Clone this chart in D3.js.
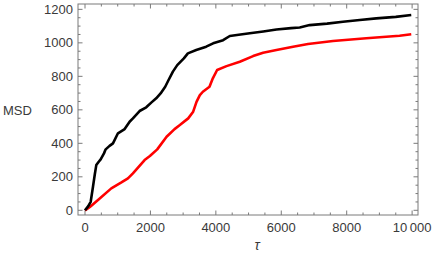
<!DOCTYPE html>
<html>
<head>
<meta charset="utf-8">
<script src="https://cdn.jsdelivr.net/npm/d3@7"></script>
<style>
  body { margin: 0; background: #fff; }
  text { font-family: "Liberation Sans", Arial, sans-serif; }
</style>
</head>
<body>
<svg id="chart" width="432" height="260"></svg>
<script>
// lag values and MSD readings for the two curves
const tauBlack = [0, 100, 174, 244, 300, 345, 420, 479, 580, 632, 750, 855, 1007, 1212, 1364, 1465, 1669, 1872, 2025, 2177, 2311, 2452, 2555, 2687, 2820, 3022, 3145, 3400, 3705, 3917, 4222, 4427, 4700, 5037, 5450, 5853, 6300, 6564, 6869, 7400, 7886, 8400, 8904, 9500, 9974];
const msdBlack = [0, 25, 51, 141, 215, 270, 290, 304, 340, 364, 385, 400, 460, 485, 529, 549, 593, 615, 643, 669, 698, 738, 778, 828, 867, 907, 937, 957, 977, 997, 1016, 1041, 1048, 1057, 1068, 1080, 1088, 1092, 1106, 1115, 1126, 1136, 1146, 1155, 1166];

const tauRed = [0, 150, 397, 804, 1100, 1313, 1465, 1822, 1984, 2208, 2494, 2738, 2900, 3155, 3307, 3409, 3511, 3603, 3806, 3908, 4039, 4326, 4732, 5139, 5444, 5853, 6360, 6818, 7581, 8598, 9616, 9974];
const msdRed = [0, 20, 62, 131, 165, 191, 221, 300, 324, 364, 439, 485, 509, 549, 589, 648, 688, 708, 738, 788, 838, 861, 887, 921, 941, 957, 977, 993, 1011, 1027, 1042, 1051];

const xTicks = [0, 2000, 4000, 6000, 8000, 10000];
const yTicks = [0, 200, 400, 600, 800, 1000, 1200];

const svg = d3.select('#chart');
const m = { left: 78, right: 418, top: 4, bottom: 215 };

const x = d3.scaleLinear().domain([-214, 10180]).range([m.left, m.right]);
const y = d3.scaleLinear().domain([-28, 1232]).range([m.bottom, m.top]);

const frameColor = '#7a7a7a';
const labelColor = '#3a3a3a';

// ticks on all four sides, pointing inward
const xMinor = d3.range(0, 10001, 500).filter(v => v % 2000 !== 0);
const yMinor = d3.range(0, 1201, 50).filter(v => v % 200 !== 0);

const ticks = svg.append('g').attr('stroke', frameColor).attr('stroke-width', 1);
function xTick(v, len) {
  ticks.append('line').attr('x1', x(v)).attr('x2', x(v)).attr('y1', m.bottom).attr('y2', m.bottom - len);
  ticks.append('line').attr('x1', x(v)).attr('x2', x(v)).attr('y1', m.top).attr('y2', m.top + len);
}
function yTick(v, len) {
  ticks.append('line').attr('y1', y(v)).attr('y2', y(v)).attr('x1', m.left).attr('x2', m.left + len);
  ticks.append('line').attr('y1', y(v)).attr('y2', y(v)).attr('x1', m.right).attr('x2', m.right - len);
}
xTicks.forEach(v => xTick(v, 4.5));
xMinor.forEach(v => xTick(v, 2.5));
yTicks.forEach(v => yTick(v, 4.5));
yMinor.forEach(v => yTick(v, 2.5));

// frame
svg.append('rect')
  .attr('x', m.left).attr('y', m.top)
  .attr('width', m.right - m.left).attr('height', m.bottom - m.top)
  .attr('fill', 'none').attr('stroke', frameColor).attr('stroke-width', 1);

// tick labels
svg.append('g').selectAll('text').data(xTicks).join('text')
  .attr('x', d => x(d)).attr('y', 232)
  .attr('text-anchor', 'middle')
  .attr('fill', labelColor).style('font-size', '13px')
  .text(d => d === 10000 ? '10\u2009000' : d);

svg.append('g').selectAll('text').data(yTicks).join('text')
  .attr('x', 73).attr('y', d => y(d) + 4.5)
  .attr('text-anchor', 'end')
  .attr('fill', labelColor).style('font-size', '13px')
  .text(d => d);

// axis labels
svg.append('text').attr('x', 3).attr('y', 114.5)
  .attr('fill', labelColor).style('font-size', '13px').text('MSD');
svg.append('text').attr('x', 257).attr('y', 250)
  .attr('text-anchor', 'middle')
  .attr('fill', labelColor).style('font-size', '14px').style('font-style', 'italic').text('τ');

// curves
const line = d3.line().x(d => x(d[0])).y(d => y(d[1]));
const plot = svg.append('g');
plot.append('path')
  .datum(d3.zip(tauRed, msdRed))
  .attr('d', line).attr('fill', 'none')
  .attr('stroke', '#ff0000').attr('stroke-width', 2.6).attr('stroke-linejoin', 'round');
plot.append('path')
  .datum(d3.zip(tauBlack, msdBlack))
  .attr('d', line).attr('fill', 'none')
  .attr('stroke', '#000').attr('stroke-width', 2.6).attr('stroke-linejoin', 'round');
</script>
</body>
</html>
